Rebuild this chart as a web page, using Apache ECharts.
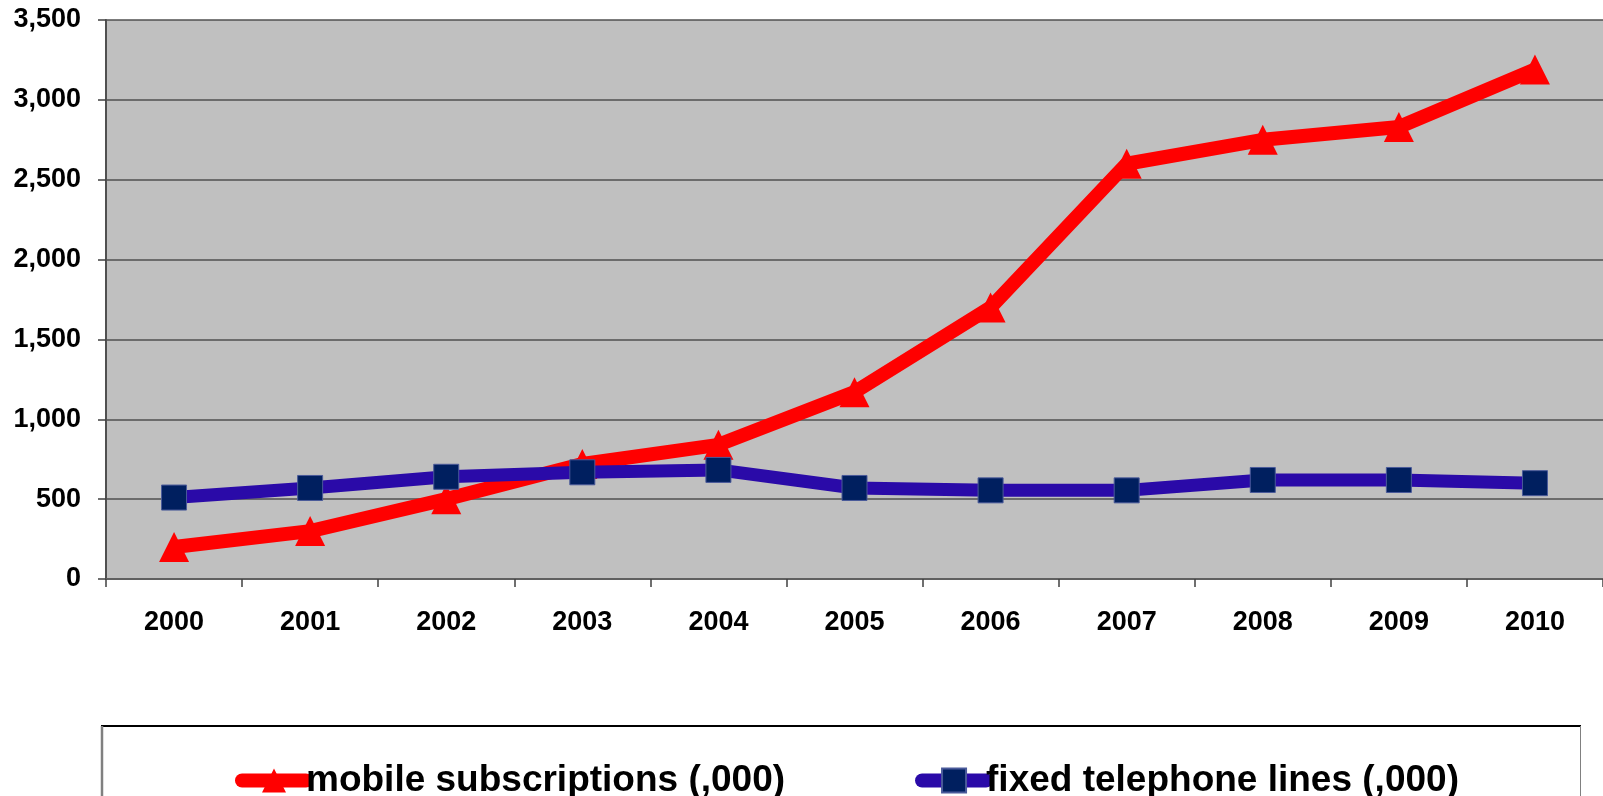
<!DOCTYPE html>
<html>
<head>
<meta charset="utf-8">
<title>Mobile subscriptions vs fixed telephone lines</title>
<script src="https://cdn.jsdelivr.net/npm/echarts@6/dist/echarts.min.js"></script>
<style>
  html, body { margin: 0; padding: 0; background: #ffffff; }
  #chart { width: 1603px; height: 796px; }
</style>
</head>
<body>
<div id="chart"></div>
<script>
// Years on the category axis
const years = ['2000', '2001', '2002', '2003', '2004', '2005', '2006', '2007', '2008', '2009', '2010'];
// Mobile subscriptions, thousands
const mobileSubscriptions = [200, 300, 500, 720, 840, 1170, 1700, 2600, 2750, 2830, 3190];
// Fixed telephone lines, thousands
const fixedLines = [510, 570, 640, 668, 683, 570, 555, 555, 620, 620, 600];
// Value axis range and step
const yMin = 0;
const yMax = 3500;
const yStep = 500;

const FONT = '"Liberation Sans", Arial, sans-serif';

const chart = echarts.init(document.getElementById('chart'), null, { renderer: 'canvas' });

chart.setOption({
  backgroundColor: '#ffffff',
  animation: false,
  grid: {
    left: 106,
    top: 20,
    width: 1500,
    bottom: 217,
    show: true,
    backgroundColor: '#c0c0c0',
    borderWidth: 0
  },
  graphic: [
    // legend frame
    { type: 'rect', z: 0, shape: { x: 102, y: 726, width: 1478, height: 90 },
      style: { fill: '#ffffff', stroke: null } },
    { type: 'line', z: 1, shape: { x1: 101, y1: 726, x2: 1581, y2: 726 },
      style: { stroke: '#000000', lineWidth: 2 } },
    { type: 'line', z: 1, shape: { x1: 102, y1: 726, x2: 102, y2: 800 },
      style: { stroke: '#808080', lineWidth: 2.5 } },
    { type: 'line', z: 1, shape: { x1: 1580.5, y1: 726, x2: 1580.5, y2: 800 },
      style: { stroke: '#808080', lineWidth: 1 } }
  ],
  legend: {
    left: 235,
    top: 762,
    padding: 0,
    itemWidth: 64,
    itemHeight: 30,
    itemGap: 130,
    z: 5,
    textStyle: {
      fontFamily: FONT,
      fontWeight: 'bold',
      fontSize: 37,
      color: '#000000',
      padding: [0, 0, 0, -5]
    },
    lineStyle: { width: 14, cap: 'round' },
    data: ['mobile subscriptions (,000)', 'fixed telephone lines (,000)']
  },
  xAxis: {
    type: 'category',
    data: years,
    boundaryGap: true,
    axisLine: { show: true, lineStyle: { color: '#606060', width: 2 } },
    axisTick: { show: true, length: 8, lineStyle: { color: '#404040', width: 1.5 } },
    axisLabel: {
      margin: 30,
      fontFamily: FONT,
      fontWeight: 'bold',
      fontSize: 27,
      color: '#000000'
    },
    splitLine: { show: false }
  },
  yAxis: {
    type: 'value',
    min: yMin,
    max: yMax,
    interval: yStep,
    axisLine: { show: true, lineStyle: { color: '#505050', width: 2 } },
    axisTick: { show: true, length: 8, lineStyle: { color: '#404040', width: 1.5 } },
    axisLabel: {
      margin: 25,
      fontFamily: FONT,
      fontWeight: 'bold',
      fontSize: 27,
      color: '#000000',
      formatter: function (v) { return v.toLocaleString('en-US'); }
    },
    splitLine: { show: true, lineStyle: { color: '#505050', width: 1.5 } }
  },
  series: [
    {
      name: 'mobile subscriptions (,000)',
      type: 'line',
      data: mobileSubscriptions,
      symbol: 'triangle',
      symbolSize: [30, 30],
      showAllSymbol: true,
      lineStyle: { color: '#ff0000', width: 14 },
      itemStyle: { color: '#ff0000' },
      z: 2
    },
    {
      name: 'fixed telephone lines (,000)',
      type: 'line',
      data: fixedLines,
      symbol: 'rect',
      symbolSize: 25,
      showAllSymbol: true,
      lineStyle: { color: '#2a0aa8', width: 13 },
      itemStyle: { color: '#001f5f', borderColor: '#4a5a9a', borderWidth: 1 },
      z: 3
    }
  ]
});
</script>
</body>
</html>
